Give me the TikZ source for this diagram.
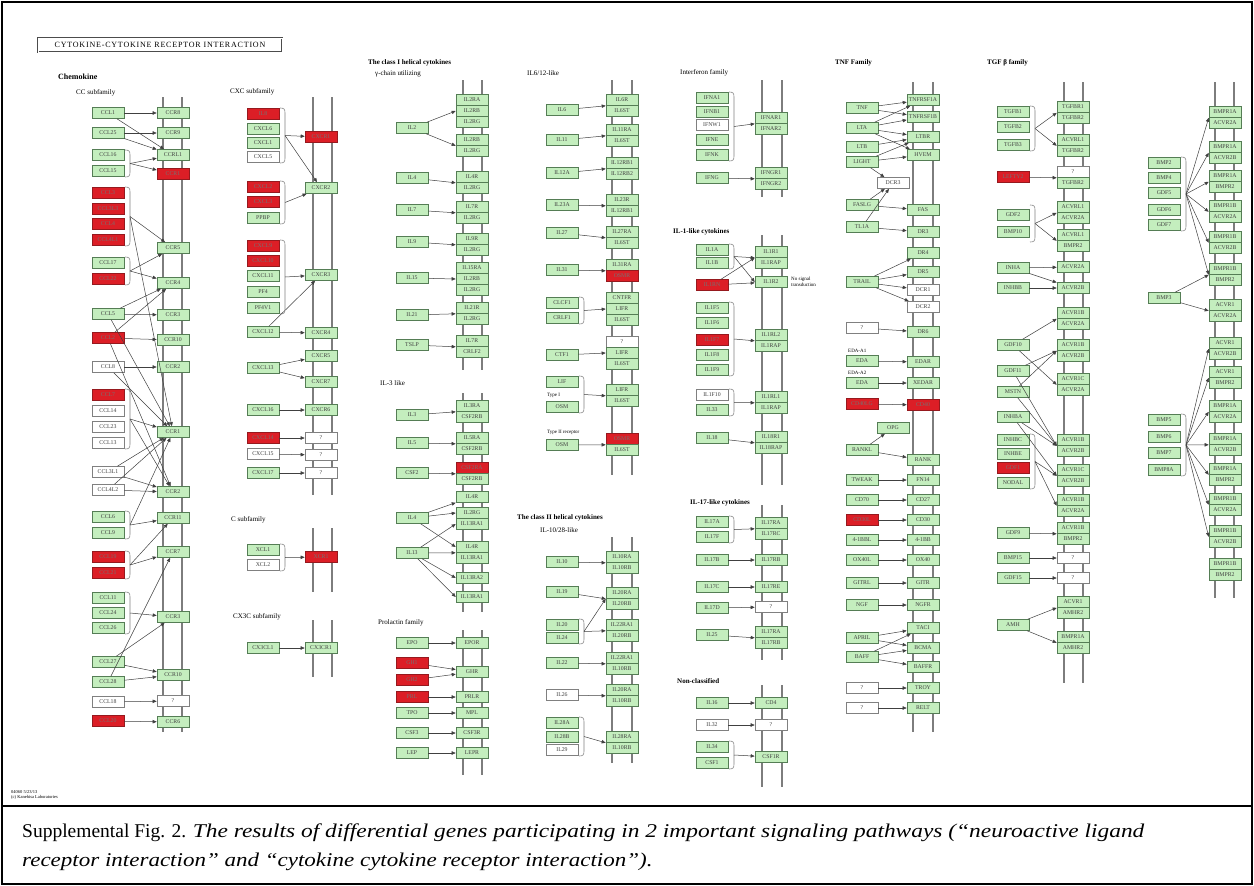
\documentclass[tikz,border=0pt]{standalone}
\usepackage{fontspec}
\setmainfont{Liberation Serif}
\usetikzlibrary{arrows.meta}
\definecolor{kg}{RGB}{196,238,190}
\definecolor{kgd}{RGB}{85,125,85}
\definecolor{kr}{RGB}{220,30,38}
\definecolor{krd}{RGB}{150,25,30}
\definecolor{memc}{RGB}{125,125,125}
\newcommand\nd[5]{\node[#1] (#2) at (#3,#4) {#5};}
\newcommand\ar[2]{\draw[arr] (#1) -- (#2);}
\newcommand\brk[4]{\draw[brkst] (#2,#3) .. controls (#2+4,#3) and (#2+5,#3+1) .. (#2+5,#3+5) -- (#2+5,#4-5) .. controls (#2+5,#4-1) and (#2+4,#4) .. (#2,#4); \coordinate (#1) at (#2+5,{(#3+#4)/2});}
\newcommand\pr[5]{\node[gb] (#1a) at (#2,#3) {#4}; \node[gb] (#1b) at (#2,#3+11) {#5};}
\begin{document}
\begin{tikzpicture}[x=1pt,y=-1pt,
 box/.style={rectangle, draw=#1, line width=0.6pt, minimum width=32pt, minimum height=11pt, inner sep=0pt, font=\fontsize{5.8}{5.8}\selectfont},
 gb/.style={box=kgd, fill=kg, text=black!75},
 rb/.style={box=krd, fill=kr, text=black!55},
 wb/.style={box=gray, fill=white, text=black!75},
 memb/.style={draw=memc, line width=1.8pt},
 arr/.style={draw=black!75, line width=0.5pt, -{Triangle[length=4pt,width=3.4pt]}},
 brkst/.style={draw=gray, line width=0.6pt},
 ttl/.style={font=\bfseries\fontsize{7}{7}\selectfont, anchor=west, inner sep=0pt},
 sub/.style={font=\fontsize{7}{7}\selectfont, anchor=west, inner sep=0pt},
 sml/.style={font=\fontsize{5}{5.5}\selectfont, anchor=west, inner sep=0pt, align=left}]
\useasboundingbox (0,0) rectangle (1254,886);
\fill[white] (0,0) rectangle (1254,886);
% frame
\draw[line width=2.5pt] (2,2) rectangle (1252,884);
\draw[line width=2pt] (2,806) -- (1252,806);
% membranes
\foreach \x/\a/\b in {163/97/732, 182/97/732, 313/97/495, 332/97/495, 313/528/592, 332/528/592, 313/620/677, 332/620/677, 463/80/370, 482/80/370, 463/393/612, 482/393/612, 463/630/775, 482/630/775, 612/80/475, 632/80/475, 612/537/763, 632/537/763, 762/80/197, 782/80/197, 762/235/485, 782/235/485, 762/505/660, 782/505/660, 762/685/787, 782/685/787, 913/82/732, 933/82/732, 1064/82/683, 1083/82/683, 1215/82/598, 1234/82/598}
  \draw[memb] (\x,\a) -- (\x,\b);
% titles
\node[draw=gray!60!black, line width=0.8pt, double, double distance=1pt, minimum width=244pt, minimum height=14pt, inner sep=0pt, font=\fontsize{8}{8}\selectfont\addfontfeatures{LetterSpace=10}] (title) at (160,45) {CYTOKINE-CYTOKINE RECEPTOR INTERACTION};
\node[ttl, font=\bfseries\fontsize{8}{8}\selectfont] (tChem) at (58,77) {Chemokine};
\node[sub] (tCC) at (76,93) {CC subfamily};
\node[sub] (tCXC) at (230,92) {CXC subfamily};
\node[sub] (tC) at (231,520) {C subfamily};
\node[sub] (tCX3C) at (233,617) {CX3C subfamily};
\node[ttl] (tCl1) at (368,63) {The class I helical cytokines};
\node[sub] (tGam) at (375,74) {γ-chain utilizing};
\node[sub] (tIL3) at (380,383) {IL-3 like};
\node[sub] (tPRL) at (378,623) {Prolactin family};
\node[sub] (tIL6) at (527,73) {IL6/12-like};
\node[ttl] (tCl2) at (517,518) {The class II helical cytokines};
\node[sub] (tIL10) at (540,530) {IL-10/28-like};
\node[sub] (tIFN) at (680,73) {Interferon family};
\node[ttl] (tIL1) at (673,232) {IL-1-like cytokines};
\node[ttl] (tIL17) at (690,503) {IL-17-like cytokines};
\node[ttl] (tNon) at (677,681) {Non-classified};
\node[ttl] (tTNF) at (835,63) {TNF Family};
\node[ttl] (tTGF) at (987,63) {TGF β family};
\node[sml] (tNoSig) at (791,282) {No signal\\transduction};
\node[sml] (tTy1) at (547,395) {Type I};
\node[sml] (tTy2) at (547,432) {Type II receptor};
\node[sml] (tEA1) at (848,351) {EDA-A1};
\node[sml] (tEA2) at (848,373) {EDA-A2};
\node[sml, font=\fontsize{4.5}{5}\selectfont] (tKegg) at (11,795) {04060 5/23/13\\(c) Kanehisa Laboratories};
% ===== Column 1: CC =====
\nd{gb}{a1}{108}{113}{CCL1}
\nd{gb}{a2}{108}{133}{CCL25}
\nd{gb}{a3}{108}{155}{CCL16}
\nd{gb}{a4}{108}{171}{CCL15}
\nd{rb}{a5}{108}{193}{CCL3}
\nd{rb}{a6}{108}{209}{CCL3L3}
\nd{rb}{a7}{108}{224}{CCL4}
\nd{rb}{a8}{108}{240}{CCL4L1}
\nd{gb}{a9}{108}{263}{CCL17}
\nd{rb}{a10}{108}{279}{CCL22}
\nd{gb}{a11}{108}{314}{CCL5}
\nd{rb}{a12}{108}{338}{CCL2}
\nd{wb}{a13}{108}{367}{CCL8}
\nd{rb}{a14}{108}{395}{CCL7}
\nd{wb}{a15}{108}{411}{CCL14}
\nd{wb}{a16}{108}{427}{CCL23}
\nd{wb}{a17}{108}{443}{CCL13}
\nd{wb}{a18}{108}{472}{CCL3L1}
\nd{wb}{a19}{108}{490}{CCL4L2}
\nd{gb}{a20}{108}{517}{CCL6}
\nd{gb}{a21}{108}{533}{CCL9}
\nd{rb}{a22}{108}{557}{CCL19}
\nd{rb}{a23}{108}{573}{CCL21}
\nd{gb}{a24}{108}{598}{CCL11}
\nd{gb}{a25}{108}{613}{CCL24}
\nd{gb}{a26}{108}{628}{CCL26}
\nd{gb}{a27}{108}{662}{CCL27}
\nd{gb}{a28}{108}{682}{CCL28}
\nd{wb}{a29}{108}{702}{CCL18}
\nd{rb}{a30}{108}{721}{CCL20}
\nd{gb}{b1}{173}{113}{CCR8}
\nd{gb}{b2}{173}{133}{CCR9}
\nd{gb}{b3}{173}{155}{CCRL1}
\nd{rb}{b4}{173}{174}{CCR1}
\nd{gb}{b5}{173}{248}{CCR5}
\nd{gb}{b6}{173}{283}{CCR4}
\nd{gb}{b7}{173}{315}{CCR3}
\nd{gb}{b8}{173}{340}{CCR10}
\nd{gb}{b9}{173}{367}{CCR2}
\nd{gb}{b10}{173}{432}{CCR1}
\nd{gb}{b11}{173}{492}{CCR2}
\nd{gb}{b12}{173}{518}{CCR11}
\nd{gb}{b13}{173}{552}{CCR7}
\nd{gb}{b14}{173}{617}{CCR3}
\nd{gb}{b15}{173}{675}{CCR10}
\nd{wb}{b16}{173}{701}{?}
\nd{gb}{b17}{173}{722}{CCR6}
\brk{k1}{125}{150}{177}
\brk{k2}{125}{187}{246}
\brk{k3}{125}{257}{285}
\brk{k4}{125}{389}{449}
\brk{k5}{125}{511}{539}
\brk{k6}{125}{551}{579}
\brk{k7}{125}{592}{634}
\ar{a1}{b1}\ar{a1}{b3}\ar{a2}{b2}\ar{a2}{b3}
\ar{k1}{b3}\ar{k1}{b4}
\ar{k2}{b5}\ar{k2}{b10}
\ar{k3}{b6}\ar{k3}{b5}
\ar{a11}{b7}\ar{a11}{b10}\ar{a11}{b6}
\ar{a12}{b8}\ar{a12}{b11}\ar{a12}{b6}
\ar{a13}{b9}\ar{a13}{b10}
\ar{k4}{b10}\ar{k4}{b11}
\ar{a18}{b10}\ar{a18}{b11}
\ar{a19}{b11}\ar{a19}{b10}
\ar{k5}{b12}\ar{k5}{b10}
\ar{k6}{b13}\ar{k6}{b12}
\ar{k7}{b14}
\ar{a27}{b15}\ar{a27}{b14}
\ar{a28}{b15}\ar{a28}{b13}
\ar{a29}{b16}\ar{a30}{b17}
% ===== Column 2: CXC, C, CX3C =====
\nd{rb}{c1}{263}{114}{IL8}
\nd{gb}{c2}{263}{129}{CXCL6}
\nd{gb}{c3}{263}{143}{CXCL1}
\nd{wb}{c4}{263}{157}{CXCL5}
\nd{rb}{c5}{263}{187}{CXCL2}
\nd{rb}{c6}{263}{202}{CXCL3}
\nd{gb}{c7}{263}{218}{PPBP}
\nd{rb}{c8}{263}{246}{CXCL9}
\nd{rb}{c9}{263}{261}{CXCL10}
\nd{gb}{c10}{263}{276}{CXCL11}
\nd{gb}{c11}{263}{292}{PF4}
\nd{gb}{c12}{263}{308}{PF4V1}
\nd{gb}{c13}{263}{332}{CXCL12}
\nd{gb}{c14}{263}{368}{CXCL13}
\nd{gb}{c15}{263}{410}{CXCL16}
\nd{rb}{c16}{263}{438}{CXCL14}
\nd{wb}{c17}{263}{454}{CXCL15}
\nd{gb}{c18}{263}{473}{CXCL17}
\nd{rb}{d1}{321}{137}{CXCR1}
\nd{gb}{d2}{321}{188}{CXCR2}
\nd{gb}{d3}{321}{275}{CXCR3}
\nd{gb}{d4}{321}{333}{CXCR4}
\nd{gb}{d5}{321}{356}{CXCR5}
\nd{gb}{d6}{321}{382}{CXCR7}
\nd{gb}{d7}{321}{410}{CXCR6}
\nd{wb}{d8}{321}{438}{?}
\nd{wb}{d9}{321}{455}{?}
\nd{wb}{d10}{321}{473}{?}
\brk{k8}{280}{108}{163}
\brk{k9}{280}{181}{224}
\brk{k10}{280}{240}{314}
\ar{k8}{d1}\ar{k8}{d2}\ar{k9}{d2}\ar{k10}{d3}
\ar{c13}{d4}\ar{c13}{d3}\ar{c14}{d5}\ar{c14}{d6}
\ar{c15}{d7}\ar{c16}{d8}\ar{c17}{d9}\ar{c18}{d10}
\nd{gb}{x1}{263}{550}{XCL1}
\nd{wb}{x2}{263}{565}{XCL2}
\nd{rb}{y1}{321}{557}{XCR1}
\brk{k11}{280}{544}{571}
\ar{k11}{y1}
\nd{gb}{z1}{263}{648}{CX3CL1}
\nd{gb}{z2}{321}{648}{CX3CR1}
\ar{z1}{z2}
% ===== Column 3: class I =====
\nd{gb}{e1}{472}{100}{IL2RA}
\nd{gb}{e2}{472}{111}{IL2RB}
\nd{gb}{e3}{472}{122}{IL2RG}
\nd{gb}{e4}{472}{140}{IL2RB}
\nd{gb}{e5}{472}{151}{IL2RG}
\nd{gb}{e6}{472}{177}{IL4R}
\nd{gb}{e7}{472}{188}{IL2RG}
\nd{gb}{e8}{472}{207}{IL7R}
\nd{gb}{e9}{472}{218}{IL2RG}
\nd{gb}{e10}{472}{239}{IL9R}
\nd{gb}{e11}{472}{250}{IL2RG}
\nd{gb}{e12}{472}{268}{IL15RA}
\nd{gb}{e13}{472}{279}{IL2RB}
\nd{gb}{e14}{472}{290}{IL2RG}
\nd{gb}{e15}{472}{308}{IL21R}
\nd{gb}{e16}{472}{319}{IL2RG}
\nd{gb}{e17}{472}{341}{IL7R}
\nd{gb}{e18}{472}{352}{CRLF2}
\nd{gb}{p1}{412}{128}{IL2}
\nd{gb}{p2}{412}{178}{IL4}
\nd{gb}{p3}{412}{210}{IL7}
\nd{gb}{p4}{412}{242}{IL9}
\nd{gb}{p5}{412}{278}{IL15}
\nd{gb}{p6}{412}{315}{IL21}
\nd{gb}{p7}{412}{345}{TSLP}
\ar{p1}{e2.west}\ar{p1}{e4.south west}
\ar{p2}{e6.south west}\ar{p3}{e8.south west}\ar{p4}{e10.south west}
\ar{p5}{e13.west}\ar{p6}{e15.south west}\ar{p7}{e17.south west}
\nd{gb}{e19}{472}{406}{IL3RA}
\nd{gb}{e20}{472}{417}{CSF2RB}
\nd{gb}{e21}{472}{438}{IL5RA}
\nd{gb}{e22}{472}{449}{CSF2RB}
\nd{rb}{e23}{472}{468}{CSF2RA}
\nd{gb}{e24}{472}{479}{CSF2RB}
\nd{gb}{e25}{472}{497}{IL4R}
\nd{gb}{e26}{472}{513}{IL2RG}
\nd{gb}{e27}{472}{524}{IL13RA1}
\nd{gb}{e28}{472}{547}{IL4R}
\nd{gb}{e29}{472}{558}{IL13RA1}
\nd{gb}{e30}{472}{578}{IL13RA2}
\nd{gb}{e31}{472}{597}{IL13RA1}
\nd{gb}{q1}{412}{415}{IL3}
\nd{gb}{q2}{412}{443}{IL5}
\nd{gb}{q3}{412}{473}{CSF2}
\nd{gb}{q4}{412}{518}{IL4}
\nd{gb}{q5}{412}{553}{IL13}
\ar{q1}{e19.south west}\ar{q2}{e21.south west}\ar{q3}{e23.south west}
\ar{q4}{e25}\ar{q4}{e26.west}\ar{q4}{e28.west}
\ar{q5}{e27.west}\ar{q5}{e28.south west}\ar{q5}{e30.west}\ar{q5}{e31.west}
\nd{gb}{s1}{412}{643}{EPO}
\nd{rb}{s2}{412}{663}{GH1}
\nd{rb}{s3}{412}{680}{GH2}
\nd{rb}{s4}{412}{697}{PRL}
\nd{gb}{s5}{412}{713}{TPO}
\nd{gb}{s6}{412}{733}{CSF3}
\nd{gb}{s7}{412}{753}{LEP}
\nd{gb}{t1}{472}{643}{EPOR}
\nd{gb}{t2}{472}{672}{GHR}
\nd{gb}{t3}{472}{697}{PRLR}
\nd{gb}{t4}{472}{713}{MPL}
\nd{gb}{t5}{472}{733}{CSF3R}
\nd{gb}{t6}{472}{753}{LEPR}
\ar{s1}{t1}\ar{s2}{t2}\ar{s3}{t2}\ar{s4}{t3}\ar{s5}{t4}\ar{s6}{t5}\ar{s7}{t6}
% ===== Column 4: IL6/12 and class II =====
\nd{gb}{f1}{622}{100}{IL6R}
\nd{gb}{f2}{622}{111}{IL6ST}
\nd{gb}{f3}{622}{130}{IL11RA}
\nd{gb}{f4}{622}{141}{IL6ST}
\nd{gb}{f5}{622}{163}{IL12RB1}
\nd{gb}{f6}{622}{174}{IL12RB2}
\nd{gb}{f7}{622}{200}{IL23R}
\nd{gb}{f8}{622}{211}{IL12RB1}
\nd{gb}{f9}{622}{232}{IL27RA}
\nd{gb}{f10}{622}{243}{IL6ST}
\nd{gb}{f11}{622}{265}{IL31RA}
\nd{rb}{f12}{622}{276}{OSMR}
\nd{gb}{f13}{622}{298}{CNTFR}
\nd{gb}{f14}{622}{309}{LIFR}
\nd{gb}{f15}{622}{320}{IL6ST}
\nd{wb}{f16}{622}{342}{?}
\nd{gb}{f17}{622}{353}{LIFR}
\nd{gb}{f18}{622}{364}{IL6ST}
\nd{gb}{f19}{622}{390}{LIFR}
\nd{gb}{f20}{622}{401}{IL6ST}
\nd{rb}{f21}{622}{439}{OSMR}
\nd{gb}{f22}{622}{450}{IL6ST}
\nd{gb}{g1}{562}{110}{IL6}
\nd{gb}{g2}{562}{140}{IL11}
\nd{gb}{g3}{562}{173}{IL12A}
\nd{gb}{g4}{562}{205}{IL23A}
\nd{gb}{g5}{562}{233}{IL27}
\nd{gb}{g6}{562}{270}{IL31}
\nd{gb}{g7}{562}{303}{CLCF1}
\nd{gb}{g8}{562}{318}{CRLF1}
\nd{gb}{g9}{562}{355}{CTF1}
\nd{gb}{g10}{562}{382}{LIF}
\nd{gb}{g11}{562}{407}{OSM}
\nd{gb}{g12}{562}{445}{OSM}
\brk{k12}{579}{297}{324}
\brk{k13}{579}{376}{413}
\ar{g1}{f1.south west}\ar{g2}{f3.south west}\ar{g3}{f5.south west}\ar{g4}{f7.south west}
\ar{g5}{f9.south west}\ar{g6}{f11.south west}\ar{k12}{f14.west}\ar{g9}{f17.west}
\ar{k13}{f19.south west}\ar{g12}{f21.south west}
\nd{gb}{k1n}{562}{562}{IL10}
\nd{gb}{k2n}{562}{592}{IL19}
\nd{gb}{k3n}{562}{625}{IL20}
\nd{gb}{k4n}{562}{638}{IL24}
\nd{gb}{k5n}{562}{663}{IL22}
\nd{wb}{k6n}{562}{695}{IL26}
\nd{gb}{k7n}{562}{723}{IL28A}
\nd{gb}{k8n}{562}{737}{IL28B}
\nd{wb}{k9n}{562}{750}{IL29}
\nd{gb}{m1}{622}{557}{IL10RA}
\nd{gb}{m2}{622}{568}{IL10RB}
\nd{gb}{m3}{622}{593}{IL20RA}
\nd{gb}{m4}{622}{604}{IL20RB}
\nd{gb}{m5}{622}{625}{IL22RA1}
\nd{gb}{m6}{622}{636}{IL20RB}
\nd{gb}{m7}{622}{658}{IL22RA1}
\nd{gb}{m8}{622}{669}{IL10RB}
\nd{gb}{m9}{622}{690}{IL20RA}
\nd{gb}{m10}{622}{701}{IL10RB}
\nd{gb}{m11}{622}{737}{IL28RA}
\nd{gb}{m12}{622}{748}{IL10RB}
\brk{k14}{579}{619}{644}
\brk{k15}{579}{717}{756}
\ar{k1n}{m1.south west}\ar{k2n}{m3.south west}\ar{k14}{m3.south west}\ar{k14}{m5.south west}
\ar{k5n}{m7.south west}\ar{k6n}{m9.south west}\ar{k15}{m11.south west}
% ===== Column 5 =====
\nd{gb}{n1}{712}{98}{IFNA1}
\nd{gb}{n2}{712}{112}{IFNB1}
\nd{wb}{n3}{712}{125}{IFNW1}
\nd{gb}{n4}{712}{140}{IFNE}
\nd{gb}{n5}{712}{155}{IFNK}
\nd{gb}{n6}{712}{178}{IFNG}
\nd{gb}{o1}{771}{118}{IFNAR1}
\nd{gb}{o2}{771}{129}{IFNAR2}
\nd{gb}{o3}{771}{173}{IFNGR1}
\nd{gb}{o4}{771}{184}{IFNGR2}
\brk{k16}{729}{92}{161}
\ar{k16}{o1.south west}\ar{n6}{o3.south west}
\nd{gb}{n7}{712}{250}{IL1A}
\nd{gb}{n8}{712}{263}{IL1B}
\nd{rb}{n9}{712}{285}{IL1RN}
\nd{gb}{o5}{771}{252}{IL1R1}
\nd{gb}{o6}{771}{263}{IL1RAP}
\nd{gb}{o7}{771}{282}{IL1R2}
\brk{k17}{729}{244}{269}
\ar{k17}{o5.south west}\ar{k17}{o7.west}\ar{n9}{o7}\ar{n9}{o5.south west}
\nd{gb}{n10}{712}{308}{IL1F5}
\nd{gb}{n11}{712}{323}{IL1F6}
\nd{rb}{n12}{712}{340}{IL1F7}
\nd{gb}{n13}{712}{355}{IL1F8}
\nd{gb}{n14}{712}{370}{IL1F9}
\nd{gb}{o8}{771}{335}{IL1RL2}
\nd{gb}{o9}{771}{346}{IL1RAP}
\brk{k18}{729}{302}{376}
\ar{k18}{o8.south west}
\nd{wb}{n15}{712}{395}{IL1F10}
\nd{gb}{n16}{712}{410}{IL33}
\nd{gb}{o10}{771}{397}{IL1RL1}
\nd{gb}{o11}{771}{408}{IL1RAP}
\brk{k19}{729}{389}{416}
\ar{k19}{o10.south west}
\nd{gb}{n17}{712}{438}{IL18}
\nd{gb}{o12}{771}{437}{IL18R1}
\nd{gb}{o13}{771}{448}{IL18RAP}
\ar{n17}{o12.south west}
\nd{gb}{n18}{712}{522}{IL17A}
\nd{gb}{n19}{712}{537}{IL17F}
\nd{gb}{n20}{712}{560}{IL17B}
\nd{gb}{n21}{712}{587}{IL17C}
\nd{gb}{n22}{712}{608}{IL17D}
\nd{gb}{n23}{712}{635}{IL25}
\nd{gb}{o14}{771}{523}{IL17RA}
\nd{gb}{o15}{771}{534}{IL17RC}
\nd{gb}{o16}{771}{560}{IL17RB}
\nd{gb}{o17}{771}{587}{IL17RE}
\nd{wb}{o18}{771}{607}{?}
\nd{gb}{o19}{771}{632}{IL17RA}
\nd{gb}{o20}{771}{643}{IL17RB}
\brk{k20}{729}{516}{543}
\ar{k20}{o14.south west}\ar{n20}{o16}\ar{n21}{o17}\ar{n22}{o18}\ar{n23}{o19.south west}
\nd{gb}{n24}{712}{703}{IL16}
\nd{wb}{n25}{712}{725}{IL32}
\nd{gb}{n26}{712}{747}{IL34}
\nd{gb}{n27}{712}{763}{CSF1}
\nd{gb}{o21}{771}{703}{CD4}
\nd{wb}{o22}{771}{725}{?}
\nd{gb}{o23}{771}{757}{CSF1R}
\brk{k21}{729}{741}{769}
\ar{n24}{o21}\ar{n25}{o22}\ar{k21}{o23}
% ===== Column 6: TNF =====
\nd{gb}{u1}{862}{108}{TNF}
\nd{gb}{u2}{862}{128}{LTA}
\nd{gb}{u3}{862}{147}{LTB}
\nd{gb}{u4}{862}{162}{LIGHT}
\nd{gb}{u5}{862}{205}{FASLG}
\nd{gb}{u6}{862}{227}{TL1A}
\nd{gb}{u7}{862}{282}{TRAIL}
\nd{wb}{u8}{862}{328}{?}
\nd{gb}{u9}{862}{361}{EDA}
\nd{gb}{u10}{862}{383}{EDA}
\nd{rb}{u11}{862}{404}{CD40LG}
\nd{gb}{u12}{862}{450}{RANKL}
\nd{gb}{u13}{862}{480}{TWEAK}
\nd{gb}{u14}{862}{500}{CD70}
\nd{rb}{u15}{862}{520}{CD30L}
\nd{gb}{u16}{862}{540}{4-1BBL}
\nd{gb}{u17}{862}{560}{OX40L}
\nd{gb}{u18}{862}{583}{GITRL}
\nd{gb}{u19}{862}{605}{NGF}
\nd{gb}{u20}{862}{638}{APRIL}
\nd{gb}{u21}{862}{657}{BAFF}
\nd{wb}{u22}{862}{688}{?}
\nd{wb}{u23}{862}{708}{?}
\nd{wb}{v1}{893}{183}{DCR3}
\nd{gb}{v2}{893}{428}{OPG}
\nd{gb}{w1}{923}{100}{TNFRSF1A}
\nd{gb}{w2}{923}{117}{TNFRSF1B}
\nd{gb}{w3}{923}{137}{LTBR}
\nd{gb}{w4}{923}{155}{HVEM}
\nd{gb}{w5}{923}{210}{FAS}
\nd{gb}{w6}{923}{232}{DR3}
\nd{gb}{w7}{923}{253}{DR4}
\nd{gb}{w8}{923}{272}{DR5}
\nd{wb}{w9}{923}{290}{DCR1}
\nd{wb}{w10}{923}{307}{DCR2}
\nd{gb}{w11}{923}{332}{DR6}
\nd{gb}{w12}{923}{362}{EDAR}
\nd{gb}{w13}{923}{383}{XEDAR}
\nd{rb}{w14}{923}{405}{CD40}
\nd{gb}{w15}{923}{460}{RANK}
\nd{gb}{w16}{923}{480}{FN14}
\nd{gb}{w17}{923}{500}{CD27}
\nd{gb}{w18}{923}{520}{CD30}
\nd{gb}{w19}{923}{540}{4-1BB}
\nd{gb}{w20}{923}{560}{OX40}
\nd{gb}{w21}{923}{583}{GITR}
\nd{gb}{w22}{923}{605}{NGFR}
\nd{gb}{w23}{923}{628}{TACI}
\nd{gb}{w24}{923}{648}{BCMA}
\nd{gb}{w25}{923}{667}{BAFFR}
\nd{gb}{w26}{923}{688}{TROY}
\nd{gb}{w27}{923}{708}{RELT}
\ar{u1}{w1}\ar{u1}{w2}\ar{u2}{w1}\ar{u2}{w2}\ar{u2}{w3}\ar{u2}{w4}
\ar{u3}{w3}\ar{u4}{w3}\ar{u4}{w4}\ar{u4}{v1}
\ar{u5}{w5}\ar{u5}{v1}\ar{u6}{w6}\ar{u6}{v1}
\ar{u7}{w7}\ar{u7}{w8}\ar{u7}{w9}\ar{u7}{w10}
\ar{u8}{w11}\ar{u9}{w12}\ar{u10}{w13}\ar{u11}{w14}
\ar{u12}{v2}\ar{u12}{w15}
\ar{u13}{w16}\ar{u14}{w17}\ar{u15}{w18}\ar{u16}{w19}\ar{u17}{w20}\ar{u18}{w21}\ar{u19}{w22}
\ar{u20}{w23}\ar{u20}{w24}\ar{u21}{w23}\ar{u21}{w24}\ar{u21}{w25}
\ar{u22}{w26}\ar{u23}{w27}
% ===== Column 7: TGF-beta =====
\nd{gb}{r1}{1013}{112}{TGFB1}
\nd{gb}{r2}{1013}{127}{TGFB2}
\nd{gb}{r3}{1013}{145}{TGFB3}
\nd{rb}{r4}{1013}{177}{LEFTY2}
\nd{gb}{r5}{1013}{215}{GDF2}
\nd{gb}{r6}{1013}{232}{BMP10}
\nd{gb}{r7}{1013}{268}{INHA}
\nd{gb}{r8}{1013}{288}{INHBB}
\nd{gb}{r9}{1013}{345}{GDF10}
\nd{gb}{r10}{1013}{371}{GDF11}
\nd{gb}{r11}{1013}{392}{MSTN}
\nd{gb}{r12}{1013}{417}{INHBA}
\nd{gb}{r13}{1013}{440}{INHBC}
\nd{gb}{r14}{1013}{454}{INHBE}
\nd{rb}{r15}{1013}{468}{GDF1}
\nd{gb}{r16}{1013}{483}{NODAL}
\nd{gb}{r17}{1013}{533}{GDF9}
\nd{gb}{r18}{1013}{558}{BMP15}
\nd{gb}{r19}{1013}{578}{GDF15}
\nd{gb}{r20}{1013}{625}{AMH}
\nd{gb}{R1}{1073}{107}{TGFBR1}
\nd{gb}{R2}{1073}{118}{TGFBR2}
\nd{gb}{R3}{1073}{140}{ACVRL1}
\nd{gb}{R4}{1073}{151}{TGFBR2}
\nd{wb}{R5}{1073}{172}{?}
\nd{gb}{R6}{1073}{183}{TGFBR2}
\nd{gb}{R7}{1073}{207}{ACVRL1}
\nd{gb}{R8}{1073}{218}{ACVR2A}
\nd{gb}{R9}{1073}{235}{ACVRL1}
\nd{gb}{R10}{1073}{246}{BMPR2}
\nd{gb}{R11}{1073}{267}{ACVR2A}
\nd{gb}{R12}{1073}{288}{ACVR2B}
\nd{gb}{R13}{1073}{313}{ACVR1B}
\nd{gb}{R14}{1073}{324}{ACVR2A}
\nd{gb}{R15}{1073}{345}{ACVR1B}
\nd{gb}{R16}{1073}{356}{ACVR2B}
\nd{gb}{R17}{1073}{379}{ACVR1C}
\nd{gb}{R18}{1073}{390}{ACVR2A}
\nd{gb}{R19}{1073}{440}{ACVR1B}
\nd{gb}{R20}{1073}{451}{ACVR2B}
\nd{gb}{R21}{1073}{470}{ACVR1C}
\nd{gb}{R22}{1073}{481}{ACVR2B}
\nd{gb}{R23}{1073}{500}{ACVR1B}
\nd{gb}{R24}{1073}{511}{ACVR2A}
\nd{gb}{R25}{1073}{528}{ACVR1B}
\nd{gb}{R26}{1073}{539}{BMPR2}
\nd{wb}{R27}{1073}{558}{?}
\nd{wb}{R28}{1073}{578}{?}
\nd{gb}{R29}{1073}{602}{ACVR1}
\nd{gb}{R30}{1073}{613}{AMHR2}
\nd{gb}{R31}{1073}{637}{BMPR1A}
\nd{gb}{R32}{1073}{648}{AMHR2}
\brk{k22}{1030}{106}{151}
\brk{k23}{1030}{205}{242}
\brk{k24}{1030}{434}{489}
\ar{k22}{R1.south west}\ar{k22}{R3.south west}\ar{r4}{R5.south west}
\ar{k23}{R7.south west}\ar{k23}{R9.south west}
\ar{r7}{R11}\ar{r7}{R12}\ar{r8}{R12}
\ar{r9}{R13.south west}\ar{r9}{R17.south west}
\ar{r10}{R15.south west}\ar{r10}{R19.south west}
\ar{r11}{R15.south west}\ar{r11}{R19.south west}
\ar{r12}{R19.south west}\ar{r12}{R21.south west}
\ar{k24}{R21.south west}\ar{k24}{R23.south west}
\ar{r17}{R25.south west}\ar{r18}{R27}\ar{r19}{R28}
\ar{r20}{R29.south west}\ar{r20}{R31.south west}
% ===== Column 8: BMP =====
\nd{gb}{L1}{1164}{163}{BMP2}
\nd{gb}{L2}{1164}{178}{BMP4}
\nd{gb}{L3}{1164}{193}{GDF5}
\nd{gb}{L4}{1164}{210}{GDF6}
\nd{gb}{L5}{1164}{225}{GDF7}
\nd{gb}{L6}{1164}{298}{BMP3}
\nd{gb}{L7}{1164}{420}{BMP5}
\nd{gb}{L8}{1164}{437}{BMP6}
\nd{gb}{L9}{1164}{453}{BMP7}
\nd{gb}{L10}{1164}{470}{BMP8A}
\pr{P1}{1225}{112}{BMPR1A}{ACVR2A}
\pr{P2}{1225}{147}{BMPR1A}{ACVR2B}
\pr{P3}{1225}{176}{BMPR1A}{BMPR2}
\pr{P4}{1225}{206}{BMPR1B}{ACVR2A}
\pr{P5}{1225}{237}{BMPR1B}{ACVR2B}
\pr{P6}{1225}{269}{BMPR1B}{BMPR2}
\pr{P7}{1225}{305}{ACVR1}{ACVR2A}
\pr{P8}{1225}{343}{ACVR1}{ACVR2B}
\pr{P9}{1225}{372}{ACVR1}{BMPR2}
\pr{P10}{1225}{406}{BMPR1A}{ACVR2A}
\pr{P11}{1225}{439}{BMPR1A}{ACVR2B}
\pr{P12}{1225}{469}{BMPR1A}{BMPR2}
\pr{P13}{1225}{499}{BMPR1B}{ACVR2A}
\pr{P14}{1225}{531}{BMPR1B}{ACVR2B}
\pr{P15}{1225}{564}{BMPR1B}{BMPR2}
\brk{k25}{1181}{157}{231}
\brk{k26}{1181}{414}{476}
\foreach \p in {P1,P2,P3,P4,P5,P6} {\draw[arr] (k25) -- (\p a.south west);}
\ar{L6}{P6a.south west}\ar{L6}{P7a.south west}
\foreach \p in {P8,P9,P10,P11,P12,P13,P14} {\draw[arr] (k26) -- (\p a.south west);}
% caption
\node[anchor=north west, inner sep=0pt, align=left, font=\fontsize{19.5}{28.5}\selectfont] (cap) at (22,824) {Supplemental Fig. 2. \scalebox{1.2}[1]{\itshape The results of differential genes participating in 2 important signaling pathways (“neuroactive ligand}\\\scalebox{1.18}[1]{\itshape receptor interaction” and “cytokine cytokine receptor interaction”).}};
\end{tikzpicture}
\end{document}
